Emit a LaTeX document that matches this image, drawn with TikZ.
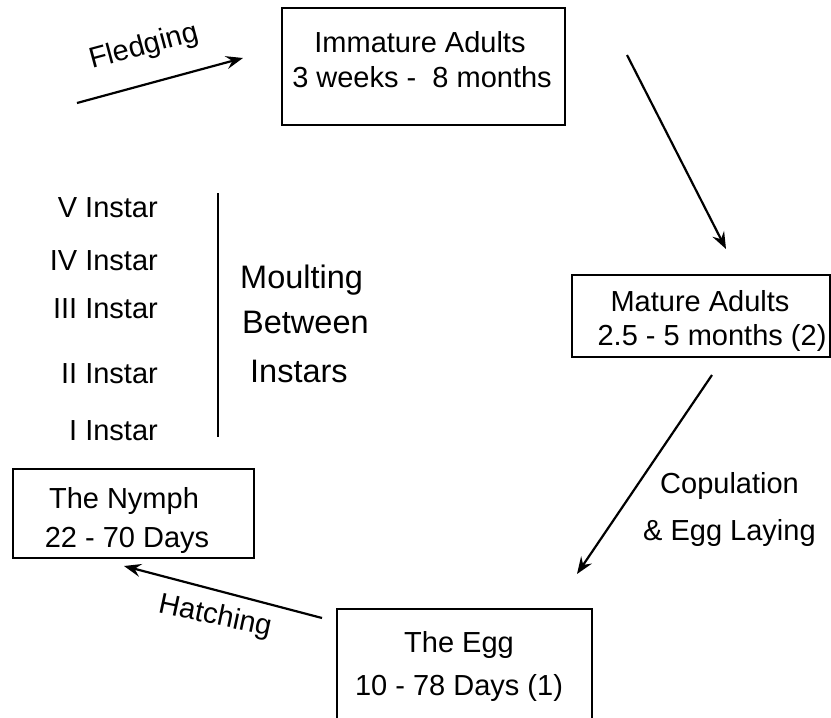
\documentclass[tikz,border=0pt]{standalone}
\usepackage{fontspec}
\setmainfont{Liberation Sans}
\usetikzlibrary{arrows.meta}
\begin{document}
\begin{tikzpicture}[x=1pt,y=-1pt,
  box/.style={draw=black,line width=1.8pt,rectangle,inner sep=0pt},
  lbl/.style={inner sep=0pt,font=\fontsize{29}{34}\selectfont},
  big/.style={inner sep=0pt,font=\fontsize{32.5}{38}\selectfont},
  arr/.style={line width=2.2pt,-{Stealth[length=17pt,width=13pt,inset=6pt]}},
  thin/.style={line width=1.2pt}]
\useasboundingbox (0,0) rectangle (831,718);
% boxes
\node[box,minimum width=283pt,minimum height=117pt] (imm) at (423.5,66.5) {};
\node[box,minimum width=258pt,minimum height=82pt] (mat) at (701,316) {};
\node[box,minimum width=241pt,minimum height=89pt] (nym) at (133.5,513.5) {};
\node[box,minimum width=255pt,minimum height=121pt] (egg) at (464.5,669.5) {};
% box texts
\node[lbl,anchor=base] (immA) at (420,52) {Immature Adults};
\node[lbl,anchor=base] (immB) at (422,87) {3 weeks -\ \ 8 months};
\node[lbl,anchor=base] (matA) at (700,311) {Mature Adults};
\node[lbl,anchor=base] (matB) at (712,345) {2.5 - 5 months (2)};
\node[lbl,anchor=base] (nymA) at (124,508) {The Nymph};
\node[lbl,anchor=base] (nymB) at (127,547) {22 - 70 Days};
\node[lbl,anchor=base] (eggA) at (459,652) {The Egg};
\node[lbl,anchor=base] (eggB) at (459,695) {10 - 78 Days (1)};
% instars
\node[lbl,anchor=base east] (i5) at (158,217) {V Instar};
\node[lbl,anchor=base east] (i4) at (158,270) {IV Instar};
\node[lbl,anchor=base east] (i3) at (158,318) {III Instar};
\node[lbl,anchor=base east] (i2) at (158,383) {II Instar};
\node[lbl,anchor=base east] (i1) at (158,440) {I Instar};
\coordinate (vtop) at (218,193);
\coordinate (vbot) at (218,437);
\draw[thin] (vtop) -- (vbot);
\node[big,anchor=base west] (m1) at (240,288) {Moulting};
\node[big,anchor=base west] (m2) at (242,333) {Between};
\node[big,anchor=base west] (m3) at (250,382) {Instars};
% arrows
\coordinate (f1) at (77,103);
\coordinate (f2) at (243,58);
\draw[arr] (f1) -- (f2);
\node[lbl,rotate=15] (fled) at (144,47) {Fledging};
\coordinate (a1) at (627,55);
\coordinate (a2) at (726,249);
\draw[arr] (a1) -- (a2);
\coordinate (b1) at (712,375);
\coordinate (b2) at (577,574);
\draw[arr] (b1) -- (b2);
\node[lbl,anchor=base west] (cop1) at (660,493) {Copulation};
\node[lbl,anchor=base west] (cop2) at (643,540) {\& Egg Laying};
\coordinate (h1) at (322,618);
\coordinate (h2) at (124,566);
\draw[arr] (h1) -- (h2);
\node[lbl,rotate=-12] (hat) at (215,617) {Hatching};
\end{tikzpicture}
\end{document}
